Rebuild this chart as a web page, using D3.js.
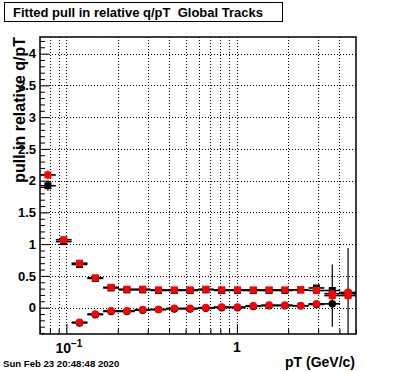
<!DOCTYPE html>
<html>
<head>
<meta charset="utf-8">
<script src="https://cdn.jsdelivr.net/npm/d3@7"></script>
<style>
  body { margin: 0; background: #fff; }
  svg { display: block; }
  text { font-family: "Liberation Sans", Arial, sans-serif; font-weight: bold; }
</style>
</head>
<body>
<script>
// pT bin edges (log bins) and the four series
var ptEdges = [0.07, 0.0867, 0.1073, 0.1328, 0.1644, 0.2035, 0.2519, 0.3118,
    0.3860, 0.4779, 0.5916, 0.7323, 0.9065, 1.1222, 1.3892, 1.7197, 2.1288,
    2.6353, 3.2623, 4.0385, 5.0];

var blackSq = [1.92, 1.04, 0.68, 0.46, 0.31, 0.28, 0.28, 0.27, 0.27, 0.27,
    0.28, 0.27, 0.27, 0.27, 0.27, 0.27, 0.28, 0.31, 0.27, 0.22];
var blackSqErr = [0.08, 0.03, 0.02, 0.02, 0.01, 0.01, 0.01, 0.01, 0.01, 0.01,
    0.01, 0.01, 0.01, 0.01, 0.01, 0.01, 0.02, 0.03, 0.05, 0.06];

var redSq = [2.09, 1.07, 0.70, 0.47, 0.32, 0.29, 0.29, 0.28, 0.28, 0.28,
    0.29, 0.28, 0.28, 0.28, 0.28, 0.28, 0.28, 0.27, 0.19, 0.19];
var redSqErr = [0.07, 0.03, 0.02, 0.02, 0.01, 0.01, 0.01, 0.01, 0.01, 0.01,
    0.01, 0.01, 0.01, 0.01, 0.01, 0.01, 0.02, 0.03, 0.49, 0.75];

var blackCirc = [null, null, -0.24, -0.11, -0.06, -0.06, -0.04, -0.03, -0.02,
    -0.02, -0.01, 0.00, 0.00, 0.02, 0.03, 0.03, 0.03, 0.05, 0.06, null];
var blackCircErr = [0, 0, 0.02, 0.01, 0.01, 0.01, 0.01, 0.01, 0.01, 0.01,
    0.01, 0.01, 0.01, 0.01, 0.01, 0.01, 0.02, 0.02, 0.04, 0];

var redCirc = [null, null, -0.23, -0.10, -0.05, -0.05, -0.03, -0.03, -0.01,
    -0.01, 0.00, 0.01, 0.01, 0.03, 0.04, 0.04, 0.03, 0.06, 0.22, 0.24];
var redCircErr = [0, 0, 0.02, 0.01, 0.01, 0.01, 0.01, 0.01, 0.01, 0.01,
    0.01, 0.01, 0.01, 0.01, 0.01, 0.01, 0.02, 0.02, 0.04, 0.05];

var yMajorTicks = [0, 0.5, 1, 1.5, 2, 2.5, 3, 3.5, 4];
var xGridTicks = [0.08, 0.09, 0.1, 0.2, 0.3, 0.4, 0.5, 0.6, 0.7, 0.8, 0.9,
    1, 2, 3, 4];
var xMajorTicks = [0.1, 1];

var W = 396, H = 372;
var frame = {left: 40, right: 356, top: 37, bottom: 334};

var svg = d3.select("body").append("svg")
    .attr("width", W)
    .attr("height", H);

var x = d3.scaleLog().domain([0.07, 5]).range([frame.left, frame.right]);
var y = d3.scaleLinear().domain([-0.415, 4.262])
    .range([frame.bottom, frame.top]);

svg.append("clipPath").attr("id", "clip")
    .append("rect")
    .attr("x", frame.left).attr("y", frame.top)
    .attr("width", frame.right - frame.left)
    .attr("height", frame.bottom - frame.top);

// dotted grid
var grid = svg.append("g")
    .attr("stroke", "black")
    .attr("stroke-width", 1)
    .attr("stroke-dasharray", "1,2");

grid.selectAll(".vg").data(xGridTicks).enter().append("line")
    .attr("x1", function(d){ return Math.round(x(d)) + 0.5; })
    .attr("x2", function(d){ return Math.round(x(d)) + 0.5; })
    .attr("y1", frame.top)
    .attr("y2", frame.bottom);

grid.selectAll(".hg").data(yMajorTicks).enter().append("line")
    .attr("y1", function(d){ return Math.round(y(d)) + 0.5; })
    .attr("y2", function(d){ return Math.round(y(d)) + 0.5; })
    .attr("x1", frame.left)
    .attr("x2", frame.right);

// y axis ticks (inside the frame), minor every 0.1
var yMinor = d3.range(-4, 43).map(function(i){ return i / 10; });
var yAxis = d3.axisRight(y).tickValues(yMinor).tickSize(5).tickFormat("");
svg.append("g")
    .attr("transform", "translate(" + frame.left + ",0)")
    .call(yAxis)
    .call(function(g){
        g.select(".domain").remove();
        g.selectAll(".tick line")
            .attr("x2", function(d){
                return (Math.abs(d * 2 - Math.round(d * 2)) < 1e-6) ? 9 : 5;
            });
    });

// y tick labels
svg.append("g").selectAll("text").data(yMajorTicks).enter().append("text")
    .attr("x", 36)
    .attr("y", function(d){ return y(d); })
    .attr("dy", "0.36em")
    .attr("text-anchor", "end")
    .style("font-size", "13px")
    .text(function(d){ return d; });

// x axis ticks (inside, pointing up)
var xTicksAll = [0.07].concat(xGridTicks).concat([5]);
var xAxis = d3.axisTop(x).tickValues(xTicksAll).tickSize(5).tickFormat("");
svg.append("g")
    .attr("transform", "translate(0," + frame.bottom + ")")
    .call(xAxis)
    .call(function(g){
        g.select(".domain").remove();
        g.selectAll(".tick line")
            .attr("y2", function(d){
                return xMajorTicks.indexOf(d) >= 0 ? -10 : -5;
            });
    });

// x tick labels
var lab1 = svg.append("text")
    .attr("x", x(0.1) - 11)
    .attr("y", 353)
    .style("font-size", "14px");
lab1.append("tspan").text("10");
lab1.append("tspan").attr("dy", -6).style("font-size", "10px").text("\u22121");

svg.append("text")
    .attr("x", x(1))
    .attr("y", 352)
    .attr("text-anchor", "middle")
    .style("font-size", "14px")
    .text("1");

// frame
svg.append("rect")
    .attr("x", frame.left).attr("y", frame.top)
    .attr("width", frame.right - frame.left)
    .attr("height", frame.bottom - frame.top)
    .attr("fill", "none")
    .attr("stroke", "black")
    .attr("stroke-width", 1.5);

// build point lists
function points(vals, errs){
    var out = [];
    vals.forEach(function(v, i){
        if (v === null) return;
        out.push({
            lo: ptEdges[i], hi: ptEdges[i + 1],
            c: Math.sqrt(ptEdges[i] * ptEdges[i + 1]),
            v: v, e: errs[i]
        });
    });
    return out;
}

var series = [
    {pts: points(blackSq, blackSqErr), color: "black", shape: "sq"},
    {pts: points(blackCirc, blackCircErr), color: "black", shape: "circ"},
    {pts: points(redSq, redSqErr), color: "red", shape: "sq"},
    {pts: points(redCirc, redCircErr), color: "red", shape: "circ"}
];

var plot = svg.append("g").attr("clip-path", "url(#clip)");

series.forEach(function(s){
    var g = plot.append("g");
    // horizontal (bin width) bars
    g.selectAll(".hb").data(s.pts).enter().append("line")
        .attr("x1", function(d){ return x(d.lo); })
        .attr("x2", function(d){ return x(d.hi); })
        .attr("y1", function(d){ return y(d.v); })
        .attr("y2", function(d){ return y(d.v); })
        .attr("stroke", "black")
        .attr("stroke-width", 1.6);
    // vertical error bars
    g.selectAll(".vb").data(s.pts).enter().append("line")
        .attr("x1", function(d){ return x(d.c); })
        .attr("x2", function(d){ return x(d.c); })
        .attr("y1", function(d){ return y(d.v - d.e); })
        .attr("y2", function(d){ return y(d.v + d.e); })
        .attr("stroke", "black")
        .attr("stroke-width", 1.2);
    if (s.shape === "sq") {
        g.selectAll(".m").data(s.pts).enter().append("rect")
            .attr("x", function(d){ return x(d.c) - 3.5; })
            .attr("y", function(d){ return y(d.v) - 3.5; })
            .attr("width", 7)
            .attr("height", 7)
            .attr("fill", s.color);
    } else {
        g.selectAll(".m").data(s.pts).enter().append("circle")
            .attr("cx", function(d){ return x(d.c); })
            .attr("cy", function(d){ return y(d.v); })
            .attr("r", 3.8)
            .attr("fill", s.color);
    }
});

// title box
svg.append("rect")
    .attr("x", 4.5).attr("y", 2.5)
    .attr("width", 278).attr("height", 19)
    .attr("fill", "white")
    .attr("stroke", "black")
    .attr("stroke-width", 1);
svg.append("text")
    .attr("x", 13)
    .attr("y", 17)
    .style("font-size", "13px")
    .attr("xml:space", "preserve")
    .text("Fitted pull in relative q/pT  Global Tracks");

// axis titles
svg.append("text")
    .attr("transform", "translate(24.5," + frame.top + ") rotate(-90)")
    .attr("text-anchor", "end")
    .style("font-size", "16px")
    .text("pull in relative q/pT");

svg.append("text")
    .attr("x", 355)
    .attr("y", 367)
    .attr("text-anchor", "end")
    .style("font-size", "14px")
    .text("pT (GeV/c)");

// time stamp
svg.append("text")
    .attr("x", 3)
    .attr("y", 367)
    .style("font-size", "9.6px")
    .text("Sun Feb 23 20:48:48 2020");
</script>
</body>
</html>
